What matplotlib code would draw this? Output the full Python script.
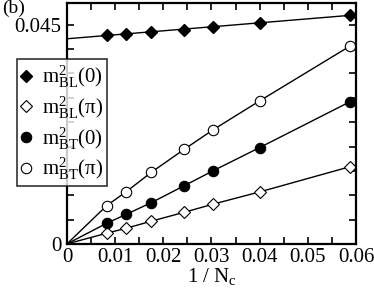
import numpy as np
import matplotlib
matplotlib.use('Agg')
import matplotlib.pyplot as plt

plt.rcParams['font.family'] = ['Liberation Serif', 'DejaVu Serif']
plt.rcParams['mathtext.fontset'] = 'custom'
plt.rcParams['mathtext.rm'] = 'Liberation Serif'
plt.rcParams['mathtext.it'] = 'Liberation Serif:italic'

# 1 / Nc
inv_nc = [1/121, 1/81, 1/57, 1/41, 1/33, 1/25, 1/17]

m2_bl_0 = [0.04294, 0.04321, 0.04350, 0.04397, 0.04459, 0.04535, 0.04705]
m2_bl_pi = [0.00220, 0.00323, 0.00468, 0.00651, 0.00816, 0.01068, 0.01588]
m2_bt_0 = [0.00425, 0.00610, 0.00849, 0.01198, 0.01500, 0.01979, 0.02924]
m2_bt_pi = [0.00787, 0.01075, 0.01473, 0.01946, 0.02342, 0.02938, 0.04068]

labels = [r'm$^{2}_{\rm BL}$(0)', r'm$^{2}_{\rm BL}$(π)',
          r'm$^{2}_{\rm BT}$(0)', r'm$^{2}_{\rm BT}$(π)']


def main():
    fig = plt.figure(figsize=(3.74, 2.89), dpi=100)
    ax = fig.add_axes([0.179, 0.156, 0.773, 0.834])

    x = np.array(inv_nc)
    # linear fit for the top series
    p = np.polyfit(x, m2_bl_0, 1)
    xx = np.array([0, x.max()])
    ax.plot(xx, np.polyval(p, xx), color='k', lw=1, zorder=1)
    h1, = ax.plot(x, m2_bl_0, 'D', ms=6.5, mfc='k', mec='k', ls='none')

    x0 = np.concatenate([[0], x])
    hs = [h1]
    for y, mk, fc, ms in [(m2_bl_pi, 'D', 'white', 6),
                          (m2_bt_0, 'o', 'k', 7.5),
                          (m2_bt_pi, 'o', 'white', 7.5)]:
        y0 = np.concatenate([[0], y])
        ax.plot(x0, y0, color='k', lw=1, zorder=1)
        h, = ax.plot(x, y, mk, ms=ms, mfc=fc, mec='k', mew=0.8, ls='none')
        hs.append(h)

    ax.set_xlim(0, 0.06)
    ax.set_ylim(0, 0.0495)
    ax.set_xticks(np.arange(0, 0.061, 0.01))
    ax.set_xticklabels(['0', '0.01', '0.02', '0.03', '0.04', '0.05', '0.06'])
    ax.set_xticks(np.arange(0.005, 0.06, 0.01), minor=True)
    yt = np.arange(0, 0.0496, 0.005)
    ax.set_yticks(yt)
    ax.set_yticklabels(['0' if i == 0 else ('0.045' if i == 9 else '')
                        for i in range(len(yt))])
    ax.tick_params(which='both', direction='in', top=True, right=True,
                   length=5, width=1.2, labelsize=15)
    ax.tick_params(axis='x', pad=3)
    ax.tick_params(axis='y', pad=4)
    for s in ax.spines.values():
        s.set_linewidth(1.6)

    ax.set_xlabel(r'1 / N$_{\rm c}$', fontsize=15, labelpad=-1)

    leg = fig.legend(hs, labels, loc='upper left',
                     bbox_to_anchor=(0.045, 0.795), fontsize=15,
                     frameon=True, fancybox=False, edgecolor='k',
                     handlelength=0.5, handletextpad=0.5,
                     borderpad=0.2, labelspacing=0.2, borderaxespad=0)
    leg.get_frame().set_linewidth(1.2)

    fig.text(0.005, 1.0, '(b)', fontsize=14, va='top', ha='left')

    fig.savefig('out.png', dpi=100)


if __name__ == "__main__":
    main()
